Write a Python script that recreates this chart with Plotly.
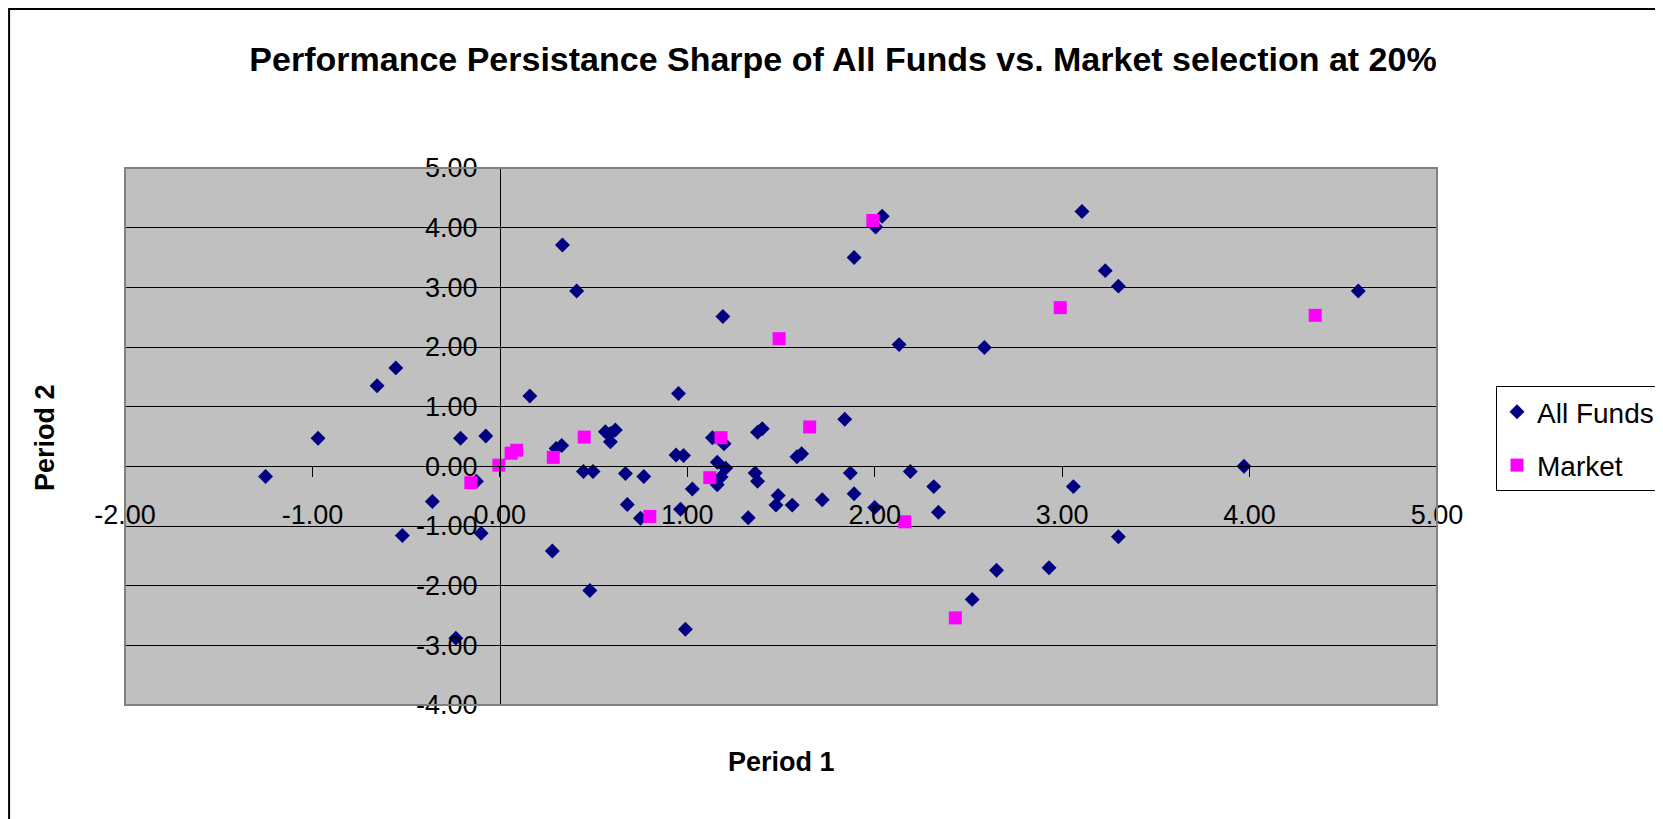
import plotly.graph_objects as go

# ---- data ----
funds_x = [-1.25, -0.97, -0.655, -0.555, -0.52, -0.36, -0.21, -0.235, -0.125, -0.10, -0.075,
           0.16, 0.28, 0.30, 0.33, 0.334, 0.41, 0.446, 0.497, 0.48, 0.563, 0.59, 0.616, 0.59,
           0.67, 0.68, 0.768, 0.75, 0.94, 0.98, 0.953, 0.964, 0.99, 1.027,
           1.134, 1.196, 1.16, 1.205, 1.18, 1.16, 1.19, 1.325, 1.362, 1.375, 1.375, 1.40,
           1.485, 1.473, 1.56, 1.585, 1.61, 1.72, 1.84, 1.87, 1.89, 1.89, 2.0, 2.005, 2.04,
           2.13, 2.19, 2.315, 2.34, 2.52, 2.585, 2.65, 2.93, 3.06, 3.106, 3.23, 3.30, 3.30,
           3.97, 4.58]
funds_y = [-0.17, 0.47, 1.35, 1.65, -1.16, -0.59, 0.47, -2.88, -0.25, -1.12, 0.51,
           1.18, -1.42, 0.30, 0.35, 3.71, 2.94, -0.085, -0.085, -2.08, 0.58, 0.55, 0.61, 0.41,
           -0.12, -0.64, -0.17, -0.87, 0.19, 0.18, 1.22, -0.72, -2.73, -0.38,
           0.48, 0.38, 0.07, -0.03, -0.18, -0.31, 2.51, -0.86, -0.11, -0.25, 0.57, 0.63,
           -0.49, -0.65, -0.65, 0.16, 0.21, -0.56, 0.79, -0.11, -0.46, 3.50, -0.69, 4.01, 4.19,
           2.04, -0.085, -0.34, -0.77, -2.23, 1.99, -1.74, -1.70, -0.34, 4.27, 3.28, 3.02, -1.18,
           0.0, 2.94]

market_x = [-0.155, -0.005, 0.06, 0.09, 0.285, 0.45, 0.80, 1.12, 1.18, 1.49, 1.653, 1.99,
            2.16, 2.43, 2.99, 4.35]
market_y = [-0.275, 0.02, 0.22, 0.27, 0.15, 0.49, -0.84, -0.19, 0.48, 2.14, 0.66, 4.12,
            -0.93, -2.54, 2.66, 2.53]

x_ticks = [-2, -1, 0, 1, 2, 3, 4, 5]
x_ticktext = ["-2.00", "-1.00", "0.00", "1.00", "2.00", "3.00", "4.00", "5.00"]
y_ticks = [-4, -3, -2, -1, 0, 1, 2, 3, 4, 5]
y_ticktext = ["-4.00", "-3.00", "-2.00", "-1.00", "0.00", "1.00", "2.00", "3.00", "4.00", "5.00"]

title_text = "Performance Persistance Sharpe of All Funds vs. Market selection at 20%"
x_title = "Period 1"
y_title = "Period 2"

FONT = "Arial, 'Liberation Sans', sans-serif"
W, H = 1663, 819
OFF = 8  # page body margin compensation
PLOT_L, PLOT_R, PLOT_T, PLOT_B = 125, 1438, 168, 705  # target page pixels
ML = PLOT_L - OFF
MT = PLOT_T - OFF
PW = PLOT_R - PLOT_L
PH = PLOT_B - PLOT_T
MR = W - ML - PW
MB = H - MT - PH


def px_to_paper_x(px):
    return (px - PLOT_L) / PW


def px_to_paper_y(py):
    return (PLOT_B - py) / PH


fig = go.Figure()
fig.add_trace(go.Scatter(
    x=funds_x, y=funds_y, mode="markers", name="All Funds",
    legendgroup="a",
    marker=dict(symbol="diamond", size=11.5, color="#000080", line=dict(width=0)),
))
fig.add_trace(go.Scatter(
    x=market_x, y=market_y, mode="markers", name="Market",
    legendgroup="b",
    marker=dict(symbol="square", size=13, color="#FF00FF", line=dict(width=0)),
))

xmin, xmax = x_ticks[0], x_ticks[-1]
ymin, ymax = y_ticks[0], y_ticks[-1]

fig.update_layout(
    width=W, height=H,
    margin=dict(l=ML, r=MR, t=MT, b=MB, pad=0),
    paper_bgcolor="white",
    plot_bgcolor="#C0C0C0",
    font=dict(family=FONT, size=27, color="black"),
    title=dict(text="<b>" + title_text + "</b>", x=(843 - OFF) / W, xanchor="center",
               y=1 - (59 - OFF) / H, yanchor="middle", xref="container", yref="container",
               font=dict(size=34, family=FONT, color="black")),
    xaxis=dict(range=[xmin, xmax], tickvals=x_ticks, ticktext=x_ticktext,
               showgrid=False, zeroline=False, showline=True, linecolor="black",
               linewidth=1, ticks="outside", ticklen=10, tickcolor="black",
               anchor="free", position=(0 - ymin) / (ymax - ymin),
               ticklabelstandoff=14,
               tickfont=dict(size=27, family=FONT, color="black")),
    yaxis=dict(range=[ymin, ymax], tickvals=y_ticks, ticktext=y_ticktext,
               showgrid=True, gridcolor="black", gridwidth=1, zeroline=False,
               showline=True, linecolor="black", linewidth=1, ticks="outside",
               ticklen=10, tickcolor="black",
               anchor="free", position=(0 - xmin) / (xmax - xmin),
               ticklabelstandoff=7,
               tickfont=dict(size=27, family=FONT, color="black")),
    legend=dict(x=px_to_paper_x(1496), y=px_to_paper_y(386), xanchor="left", yanchor="top",
                bgcolor="white", bordercolor="black", borderwidth=1,
                font=dict(size=28, family=FONT, color="black"),
                traceorder="grouped", tracegroupgap=14),
    showlegend=True,
)

# plot-area border
fig.add_shape(type="rect", xref="paper", yref="paper", x0=0, y0=0, x1=1, y1=1,
              line=dict(color="#808080", width=2), layer="above")
# outer chart border (as close to the page corner as the page margin allows)
fig.add_shape(type="rect", xref="paper", yref="paper",
              x0=px_to_paper_x(OFF + 1), y0=px_to_paper_y(835),
              x1=px_to_paper_x(1690), y1=px_to_paper_y(OFF + 1),
              line=dict(color="black", width=2), layer="above")

# axis titles
fig.add_annotation(text="<b>" + x_title + "</b>", xref="paper", yref="paper",
                   x=0.5, y=px_to_paper_y(762), xanchor="center", yanchor="middle",
                   showarrow=False, font=dict(size=27, family=FONT, color="black"))
fig.add_annotation(text="<b>" + y_title + "</b>", xref="paper", yref="paper",
                   x=px_to_paper_x(45), y=px_to_paper_y(438), xanchor="center",
                   yanchor="middle", textangle=-90,
                   showarrow=False, font=dict(size=27, family=FONT, color="black"))

fig.write_html("out.html")
